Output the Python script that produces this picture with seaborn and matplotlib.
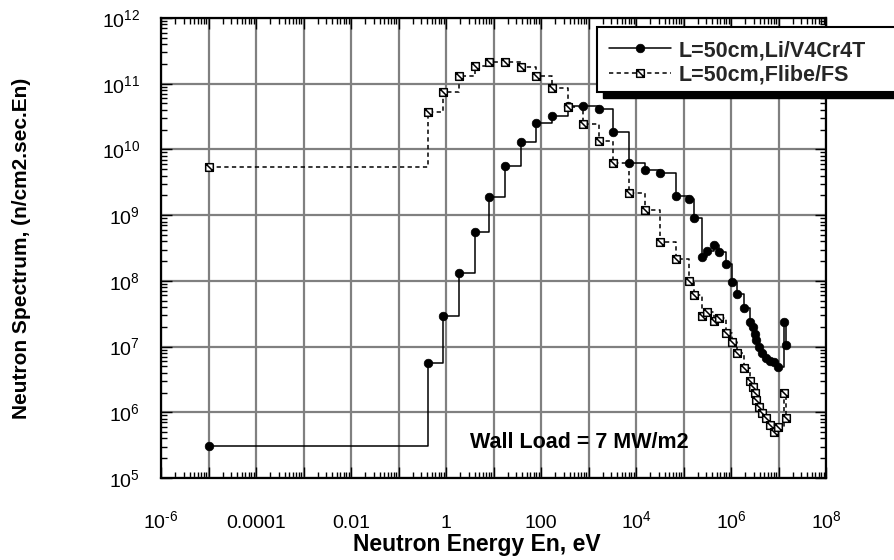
import numpy as np
import pandas as pd
import matplotlib
matplotlib.use("Agg")
import matplotlib.pyplot as plt
from matplotlib.path import Path
from matplotlib.patches import Rectangle
from matplotlib.ticker import FixedLocator, FixedFormatter, LogLocator, NullFormatter
import seaborn as sns

# energy points of the groups (eV)
energy_ev = [1e-5, 0.41, 0.85, 1.88, 4.05, 8.1, 17.5, 38.5, 78.5, 168,
             370, 760, 1640, 3350, 7120, 1.57e4, 3.22e4, 7.0e4, 1.3e5, 1.7e5,
             2.4e5, 3.1e5, 4.35e5, 5.55e5, 8.0e5, 1.03e6, 1.34e6, 1.88e6, 2.51e6, 2.86e6,
             3.14e6, 3.42e6, 3.86e6, 4.5e6, 5.35e6, 6.6e6, 8.1e6, 9.8e6, 1.28e7, 1.42e7]

# neutron spectrum, n/cm2.sec.En
li_flux = [3.1e5, 5.6e6, 2.9e7, 1.33e8, 5.6e8, 1.9e9, 5.6e9, 1.31e10, 2.56e10, 3.24e10,
           4.6e10, 4.64e10, 4.13e10, 1.87e10, 6.3e9, 4.9e9, 4.4e9, 1.98e9, 1.78e9, 9.2e8,
           2.29e8, 2.88e8, 3.5e8, 2.78e8, 1.79e8, 9.7e7, 6.3e7, 3.9e7, 2.37e7, 1.99e7,
           1.58e7, 1.26e7, 9.86e6, 7.85e6, 6.7e6, 6.04e6, 5.73e6, 4.9e6, 2.37e7, 1.04e7]

flibe_flux = [5.4e9, 3.68e10, 7.6e10, 1.31e11, 1.89e11, 2.12e11, 2.12e11, 1.82e11, 1.31e11, 8.6e10,
              4.4e10, 2.42e10, 1.35e10, 6.3e9, 2.14e9, 1.2e9, 3.9e8, 2.15e8, 9.96e7, 6.1e7,
              2.92e7, 3.4e7, 2.48e7, 2.7e7, 1.63e7, 1.19e7, 7.9e6, 4.72e6, 3.0e6, 2.4e6,
              1.95e6, 1.54e6, 1.22e6, 9.7e5, 8.1e5, 6.4e5, 5.07e5, 6.0e5, 1.95e6, 8.1e5]

series_names = ["L=50cm,Li/V4Cr4T", "L=50cm,Flibe/FS"]

x_ticks = [1e-6, 1e-5, 1e-4, 1e-3, 1e-2, 1e-1, 1, 10, 100, 1e3, 1e4, 1e5, 1e6, 1e7, 1e8]
x_tick_labels = ["$10^{\\text{-}6}$", "", "0.0001", "", "0.01", "", "1", "", "100", "",
                 "$10^{4}$", "", "$10^{6}$", "", "$10^{8}$"]
y_ticks = [1e5, 1e6, 1e7, 1e8, 1e9, 1e10, 1e11, 1e12]
y_tick_labels = ["$10^{5}$", "$10^{6}$", "$10^{7}$", "$10^{8}$",
                 "$10^{9}$", "$10^{10}$", "$10^{11}$", "$10^{12}$"]

sns.set_theme(style="ticks")
plt.rcParams["font.family"] = ["Liberation Sans", "DejaVu Sans"]
plt.rcParams["mathtext.fontset"] = "custom"
plt.rcParams["mathtext.rm"] = "Liberation Sans"
plt.rcParams["mathtext.it"] = "Liberation Sans:italic"
plt.rcParams["mathtext.bf"] = "Liberation Sans:bold"

spec_df = pd.DataFrame({"energy": energy_ev, "li": li_flux, "flibe": flibe_flux})

fig = plt.figure(figsize=(8.94, 5.6), dpi=100)
ax = fig.add_axes([161 / 894, 1 - 478 / 560, 665 / 894, 460 / 560])
ax.set_xscale("log")
ax.set_yscale("log")

# square with a back slash marker
box_slash = Path([(-1, -1), (1, -1), (1, 1), (-1, 1), (-1, -1), (-1, 1), (1, -1)],
                 [Path.MOVETO, Path.LINETO, Path.LINETO, Path.LINETO, Path.CLOSEPOLY,
                  Path.MOVETO, Path.LINETO])

sns.lineplot(data=spec_df, x="energy", y="li", ax=ax, estimator=None, sort=False,
             color="black", linewidth=1.1, drawstyle="steps-post",
             marker="o", markersize=6.2, markerfacecolor="black",
             markeredgecolor="black", markeredgewidth=0.5)
sns.lineplot(data=spec_df, x="energy", y="flibe", ax=ax, estimator=None, sort=False,
             color="black", linewidth=1.1, linestyle=(0, (2.8, 2.2)), drawstyle="steps-post",
             marker=box_slash, markersize=5.5, markerfacecolor="white",
             markeredgecolor="black", markeredgewidth=1.1)

ax.set_xlim(1e-6, 1e8)
ax.set_ylim(1e5, 1e12)

ax.xaxis.set_major_locator(FixedLocator(x_ticks))
ax.xaxis.set_major_formatter(FixedFormatter(x_tick_labels))
ax.xaxis.set_minor_locator(LogLocator(base=10, subs=np.arange(2, 10), numticks=100))
ax.xaxis.set_minor_formatter(NullFormatter())
ax.yaxis.set_major_locator(FixedLocator(y_ticks))
ax.yaxis.set_major_formatter(FixedFormatter(y_tick_labels))
ax.yaxis.set_minor_locator(LogLocator(base=10, subs=np.arange(2, 10), numticks=100))
ax.yaxis.set_minor_formatter(NullFormatter())

ax.grid(True, which="major", color="#808080", linewidth=1.6)
ax.set_axisbelow(True)
ax.tick_params(which="both", direction="in", top=True, right=True, bottom=True, left=True,
               color="black", width=1.0, labelcolor="black", labelsize=14)
ax.tick_params(which="major", length=8)
ax.tick_params(which="minor", length=4)
ax.tick_params(axis="x", pad=36)
ax.tick_params(axis="y", pad=15)
for t in ax.get_xticklabels():
    t.set_verticalalignment("baseline")
for sp in ax.spines.values():
    sp.set_linewidth(1.6)
    sp.set_color("black")

ax.set_xlabel("Neutron Energy En, eV", fontsize=16.5, fontweight="bold", color="black")
ax.set_ylabel("Neutron Spectrum, (n/cm2.sec.En)", fontsize=15, fontweight="bold", color="black")
ax.xaxis.set_label_coords((477 - 161) / 665, (478 - 545) / 460)
ax.xaxis.label.set_verticalalignment("center")
ax.yaxis.set_label_coords((22 - 161) / 665, (478 - 248) / 460)
ax.yaxis.label.set_verticalalignment("center")

fig.text(470 / 894, 1 - 443 / 560, "Wall Load = 7 MW/m2", fontsize=15.5, fontweight="bold",
         ha="left", va="center", color="black")

# legend box with the black drop shadow, sticking out past the plot
fig.patches.append(Rectangle((603 / 894, 1 - 98 / 560), 320 / 894, 65 / 560,
                             transform=fig.transFigure, facecolor="black",
                             edgecolor="black", zorder=5))
fig.patches.append(Rectangle((597 / 894, 1 - 92 / 560), 320 / 894, 65 / 560,
                             transform=fig.transFigure, facecolor="white",
                             edgecolor="black", linewidth=1.5, zorder=6))
leg = fig.legend(ax.get_lines()[:2], series_names, loc="upper left",
                 bbox_to_anchor=(609 / 894, 1 - 40 / 560), frameon=False,
                 borderpad=0, borderaxespad=0, handlelength=2.9, handletextpad=0.35,
                 labelspacing=0.15, prop={"size": 15.5, "weight": "bold"})
leg.set_zorder(7)

fig.savefig("out.png", dpi=100)
